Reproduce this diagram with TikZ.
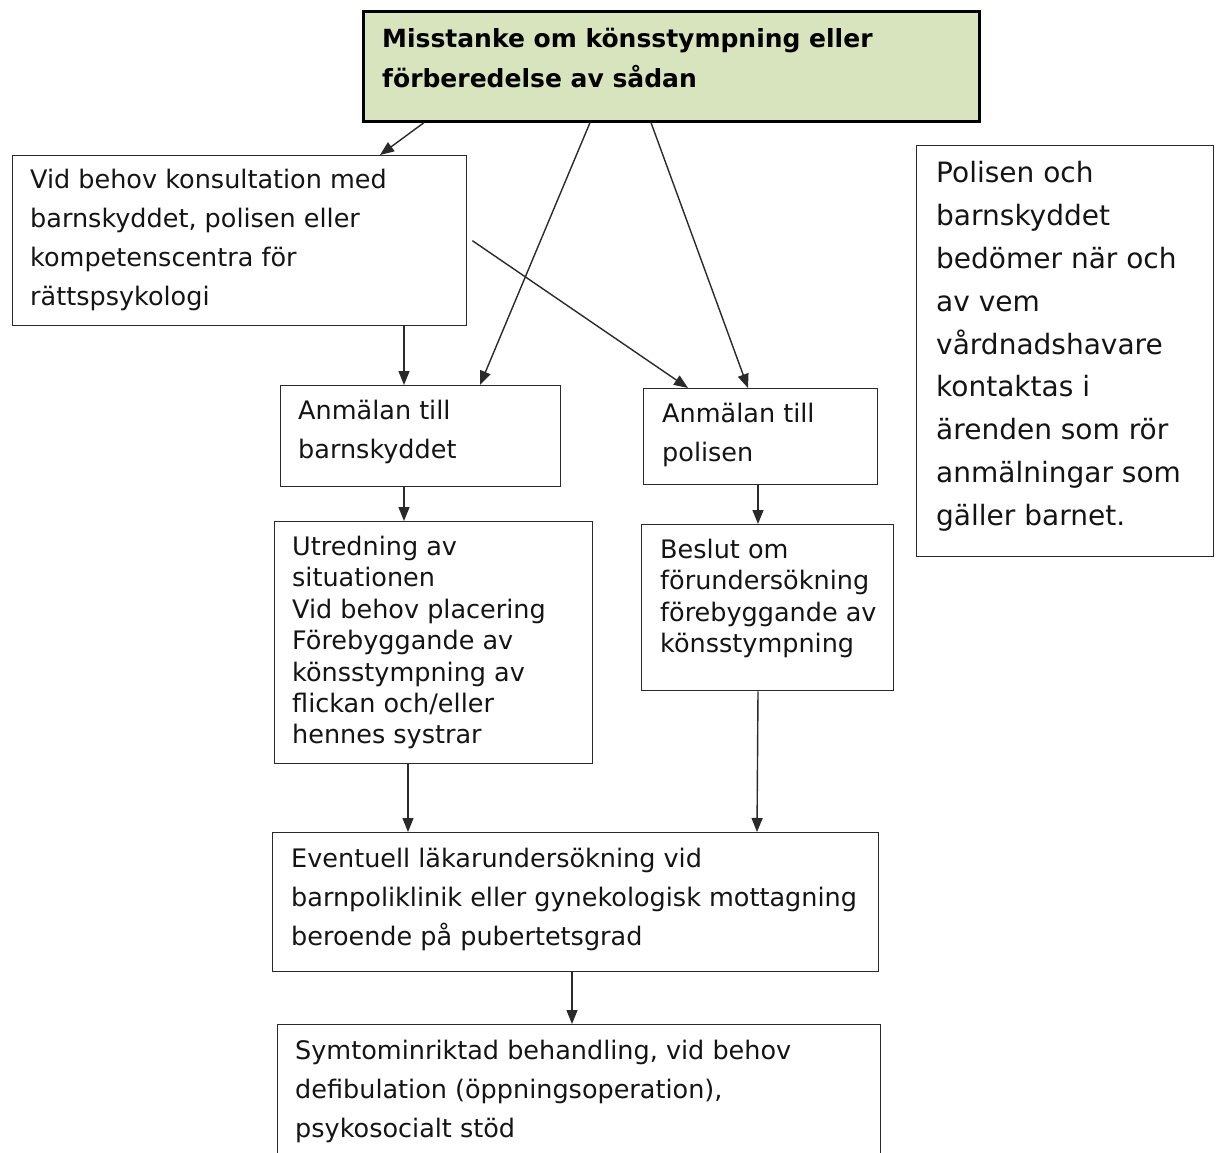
\documentclass[tikz,border=0pt]{standalone}
\usepackage{fontspec}
\setmainfont{DejaVu Sans}
\usetikzlibrary{arrows.meta}
\definecolor{titlegreen}{HTML}{D8E4BD}
\definecolor{linegray}{HTML}{2A2A2A}
\definecolor{textgray}{HTML}{141414}

\begin{document}
\begin{tikzpicture}[x=1pt, y=-1pt,
    box/.style={rectangle, draw=linegray, line width=1.4pt, anchor=north west, inner sep=0pt},
    txt/.style={anchor=north west, inner sep=0pt, align=left, text=textgray, font=\fontsize{25.5}{39}\selectfont},
    tighttxt/.style={txt, font=\fontsize{25.5}{31.4}\selectfont},
    arrow/.style={draw=linegray, line width=1.4pt, -{Triangle[length=14pt,width=11pt]}}]
				\useasboundingbox (0,0) rectangle (1218,1153);

				% Nodes
				\node (title) [box, draw=black, line width=2.6pt, fill=titlegreen, minimum width=616pt, minimum height=110pt] at (362,10) {};
				\node (titletext) [txt, text=black, font=\bfseries\fontsize{25}{40}\selectfont] at ([shift={(20,18)}]title.north west) {Misstanke om könsstympning eller\\förberedelse av sådan};

				\node (konsult) [box, minimum width=454pt, minimum height=170pt] at (12,155) {};
				\node (konsulttext) [txt] at ([shift={(18,14)}]konsult.north west) {Vid behov konsultation med\\barnskyddet, polisen eller\\kompetenscentra för\\rättspsykologi};

				\node (info) [box, minimum width=297pt, minimum height=411pt] at (916,145) {};
				\node (infotext) [txt, font=\fontsize{28}{42.8}\selectfont] at ([shift={(20,16.4)}]info.north west) {Polisen och\\barnskyddet\\bedömer när och\\av vem\\vårdnadshavare\\kontaktas i\\ärenden som rör\\anmälningar som\\gäller barnet.};

				\node (anmbarn) [box, minimum width=280pt, minimum height=101pt] at (280,385) {};
				\node (anmbarntext) [txt] at ([shift={(18,15)}]anmbarn.north west) {Anmälan till\\barnskyddet};

				\node (anmpol) [box, minimum width=234pt, minimum height=96pt] at (643,388) {};
				\node (anmpoltext) [txt] at ([shift={(19,14.6)}]anmpol.north west) {Anmälan till\\polisen};

				\node (utred) [box, minimum width=318pt, minimum height=242pt] at (274,521) {};
				\node (utredtext) [tighttxt] at ([shift={(18,15)}]utred.north west) {Utredning av\\situationen\\Vid behov placering\\Förebyggande av\\könsstympning av\\flickan och/eller\\hennes systrar};

				\node (beslut) [box, minimum width=252pt, minimum height=166pt] at (641,524) {};
				\node (beslutext) [tighttxt] at ([shift={(19,15)}]beslut.north west) {Beslut om\\förundersökning\\förebyggande av\\könsstympning};

				\node (lakare) [box, minimum width=606pt, minimum height=139pt] at (272,832) {};
				\node (lakaretext) [txt] at ([shift={(19,15.6)}]lakare.north west) {Eventuell läkarundersökning vid\\barnpoliklinik eller gynekologisk mottagning\\beroende på pubertetsgrad};

				\node (behandling) [box, minimum width=603pt, minimum height=200pt] at (277,1024) {};
				\node (behandlingtext) [txt] at ([shift={(18,15.6)}]behandling.north west) {Symtominriktad behandling, vid behov\\defibulation (öppningsoperation),\\psykosocialt stöd};

				% Arrows
				\draw[arrow] ([xshift=62pt]title.south west) -- ([xshift=368pt]konsult.north west);
				\draw[arrow] ([xshift=228pt]title.south west) -- ([xshift=200pt]anmbarn.north west);
				\draw[arrow] ([xshift=289pt]title.south west) -- ([xshift=105pt]anmpol.north west);
				\draw[arrow] ([xshift=5pt]konsult.east) -- ([xshift=45pt]anmpol.north west);
				\draw[arrow] ([xshift=392pt]konsult.south west) -- ([xshift=124pt]anmbarn.north west);
				\draw[arrow] ([xshift=124pt]anmbarn.south west) -- ([xshift=130pt]utred.north west);
				\draw[arrow] ([xshift=115pt]anmpol.south west) -- ([xshift=117pt]beslut.north west);
				\draw[arrow] ([xshift=134pt]utred.south west) -- ([xshift=136pt]lakare.north west);
				\draw[arrow] ([xshift=117pt]beslut.south west) -- ([xshift=485pt]lakare.north west);
				\draw[arrow] ([xshift=300pt]lakare.south west) -- ([xshift=295pt]behandling.north west);
			\end{tikzpicture}
\end{document}
